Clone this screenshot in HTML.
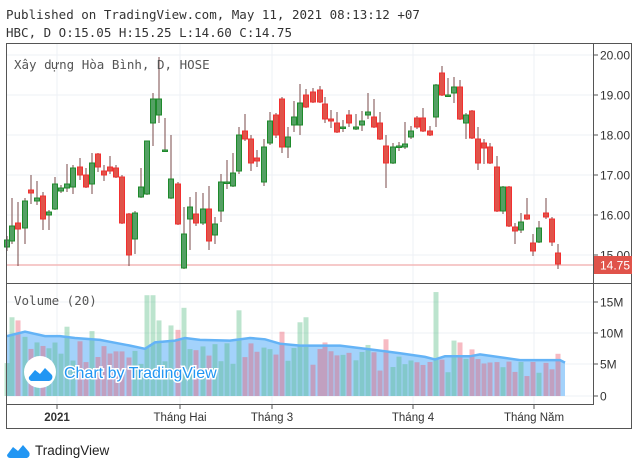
<!DOCTYPE html><html><head><meta charset="utf-8"><style>
body{margin:0;background:#fff;width:640px;height:467px;overflow:hidden}
svg text{font-family:"Liberation Sans",sans-serif}
</style></head><body>
<svg id="s" width="640" height="467" xmlns="http://www.w3.org/2000/svg"></svg>
<script>
const s=document.getElementById('s');let h='';
h+='<text x="6" y="19" font-size="12.5" fill="#333" style="font-family:DejaVu Sans Mono,monospace">Published on TradingView.com, May 11, 2021 08:13:12 +07</text>';
h+='<text x="6" y="37" font-size="12.5" fill="#333" style="font-family:DejaVu Sans Mono,monospace">HBC, D O:15.05 H:15.25 L:14.60 C:14.75</text>';
[55,95,135,175,215,255].forEach(y=>h+=`<line x1="7" x2="593" y1="${y}" y2="${y}" stroke="#eef1f5"/>`);
[302,333,364,396].forEach(y=>h+=`<line x1="7" x2="593" y1="${y}" y2="${y}" stroke="#eef1f5"/>`);
[57,180,272,413,534].forEach(x=>h+=`<line x1="${x}" x2="${x}" y1="44" y2="404" stroke="#eef1f5"/>`);
h+='<line x1="7" x2="593" y1="265" y2="265" stroke="#f4b8b8" stroke-width="1.5"/>';
const C=[[7,240,247,236,251,'g'],[12,226,241,198,244,'g'],[18,223,229,202,266,'r'],[25,201,228,198,244,'g'],[31,190,193,175,204,'r'],[37,198,201,181,205,'g'],[43,196,219,192,230,'r'],[49,212,215,210,230,'g'],[55,184,209,177,210,'g'],[61,188,191,185,193,'g'],[67,184,188,164,192,'g'],[73,168,187,165,194,'g'],[80,167,175,158,180,'r'],[86,175,187,168,188,'r'],[92,163,184,153,194,'g'],[98,154,167,153,172,'r'],[104,171,175,165,181,'r'],[110,167,171,156,174,'r'],[116,168,177,165,178,'r'],[122,177,223,175,224,'r'],[129,214,255,213,266,'r'],[135,213,239,211,254,'g'],[141,187,197,168,198,'g'],[147,141,194,141,195,'g'],[153,99,123,93,146,'g'],[159,99,115,57,123,'g'],[165,150,151,118,151,'g'],[171,179,198,135,199,'g'],[178,184,224,182,225,'r'],[184,234,268,207,269,'g'],[190,207,219,197,250,'g'],[196,214,223,192,226,'r'],[203,209,223,193,225,'g'],[209,209,241,186,250,'r'],[215,224,235,217,244,'g'],[221,182,211,174,222,'g'],[227,182,183,160,189,'g'],[233,173,186,153,187,'g'],[239,135,171,127,174,'g'],[245,131,139,114,141,'r'],[251,139,163,135,171,'r'],[257,158,161,150,167,'r'],[264,147,182,139,186,'g'],[270,121,143,112,145,'g'],[276,115,135,113,138,'r'],[282,99,147,97,153,'r'],[288,137,147,127,158,'g'],[294,117,125,101,132,'g'],[300,103,125,84,135,'g'],[306,95,107,89,108,'r'],[313,92,102,88,103,'r'],
[320,90,102,86,103,'r'],[325,104,119,97,123,'r'],[331,119,121,110,128,'r'],[337,123,132,112,133,'r'],[343,127,128,120,132,'g'],[349,115,123,110,127,'r'],[356,127,129,114,130,'g'],[362,121,125,111,131,'g'],[368,112,115,93,119,'g'],[374,117,127,99,128,'r'],[380,123,139,112,140,'r'],[386,146,163,135,188,'r'],[393,147,163,143,164,'g'],[399,146,147,142,151,'g'],[405,144,147,122,149,'g'],[411,131,137,126,139,'g'],[417,118,127,116,129,'r'],[423,118,131,108,132,'r'],[430,131,135,126,136,'r'],[436,85,117,84,127,'g'],[442,73,95,66,96,'r'],[448,95,96,78,96,'g'],[454,87,93,77,103,'g'],[460,87,119,80,120,'r'],[466,115,123,113,139,'g'],[472,111,138,110,139,'r'],[478,139,163,127,170,'r'],[484,143,148,139,164,'r'],[490,147,163,143,164,'r'],[497,167,211,156,212,'r'],[503,187,211,186,214,'g'],[509,187,226,186,227,'r'],[515,227,231,223,244,'r'],[521,222,230,213,233,'g'],[527,215,219,198,220,'r'],[533,243,251,234,256,'r'],[539,228,242,221,243,'g'],[546,213,217,198,219,'r'],[552,219,242,217,246,'r'],[558,253,264,244,269,'r']];
C.forEach(c=>{const col=c[5]=='g'?'#1e8a2b':'#f23030',fill=c[5]=='g'?'#54a064':'#e0534a';
h+=`<line x1="${c[0]}" x2="${c[0]}" y1="${c[3]}" y2="${c[4]}" stroke="#7a4a48" stroke-width="1"/>`;
h+=`<rect x="${c[0]-2.5}" y="${c[1]}" width="5" height="${Math.max(1.5,c[2]-c[1])}" fill="${fill}" stroke="${col}" stroke-width="1"/>`;});
const Y=v=>396-v*6.3;
const ma=[[7,9.5],[25,10.2],[45,9.5],[60,9.5],[75,9.2],[100,8.9],[110,8.6],[130,8.0],[145,7.5],[155,8.5],[175,8.8],[185,9.2],[200,8.9],[230,8.8],[250,9.2],[265,9.0],[280,8.3],[300,8.0],[340,8.0],[370,7.4],[400,6.8],[425,6.2],[435,5.8],[445,6.3],[470,6.3],[480,6.6],[520,5.7],[560,5.7],[565,5.3]];
let pts=ma.map(p=>p[0]+','+Y(p[1]).toFixed(1)).join(' ');
h+=`<polygon points="7,396 ${pts} 565,396" fill="#a3d2fb"/>`;
const sp={12:[12.5,'g'],18:[12,'r'],67:[11,'g'],92:[10.3,'g'],147:[16,'g'],153:[16,'g'],159:[12,'g'],171:[11.2,'g'],178:[10.5,'r'],184:[14,'g'],239:[13.6,'g'],282:[10.2,'r'],300:[11.7,'g'],306:[12.5,'g'],325:[8.5,'r'],368:[8.1,'g'],386:[9,'r'],436:[16.5,'g'],454:[8.8,'g'],460:[8.5,'r'],472:[7.4,'r'],558:[6.7,'r']};
function maAt(x){for(let i=1;i<ma.length;i++)if(x<=ma[i][0]){const a=ma[i-1],b=ma[i];return a[1]+(b[1]-a[1])*(x-a[0])/(b[0]-a[0]);}return 5.5}
C.forEach((c,i)=>{let v,col=c[5];const k=Object.keys(sp).find(q=>Math.abs(q-c[0])<=2);
if(k){v=sp[k][0];col=sp[k][1];}else v=maAt(c[0])*(0.55+0.4*Math.abs(Math.sin(i*1.7)));
const f=col=='g'?'rgba(80,185,125,0.38)':'rgba(235,90,110,0.42)';
h+=`<rect x="${c[0]-2.5}" y="${Y(v)}" width="5" height="${v*6.3}" fill="${f}"/>`;});
h+=`<polyline points="${pts}" fill="none" stroke="#64b3f6" stroke-width="2.5"/>`;
h+='<text x="14" y="305" font-size="12.5" fill="#555" style="font-family:DejaVu Sans Mono,monospace">Volume (20)</text>';
h+='<text x="14" y="69" font-size="12.5" fill="#555" style="font-family:DejaVu Sans Mono,monospace">Xây dựng Hòa Bình, D, HOSE</text>';
h+='<circle cx="40" cy="372" r="16" fill="#fff"/><path d="M29,377 l6,-7 l5,4 l5,-6 l6,6 a4,4 0 0 1 -2,7 h-17 a3,3 0 0 1 -3,-4z" fill="#2196f3"/>';
h+='<text x="64" y="378" font-size="16" fill="#2196f3" stroke="#fff" stroke-width="3" paint-order="stroke">Chart by TradingView</text>';
h+='<rect x="6.5" y="43.5" width="625" height="385" fill="none" stroke="#555"/>';
h+='<line x1="593.5" x2="593.5" y1="44" y2="404" stroke="#555"/><line x1="7" x2="632" y1="283.5" y2="283.5" stroke="#555"/><line x1="7" x2="594" y1="404.5" y2="404.5" stroke="#555"/>';
[[55,'20.00'],[95,'19.00'],[135,'18.00'],[175,'17.00'],[215,'16.00'],[255,'15.00']].forEach(t=>{h+=`<line x1="594" x2="598" y1="${t[0]}" y2="${t[0]}" stroke="#555"/><text x="600" y="${t[0]+4.5}" font-size="12" fill="#333">${t[1]}</text>`});
[[302,'15M'],[333,'10M'],[364,'5M'],[396,'0']].forEach(t=>{h+=`<line x1="594" x2="598" y1="${t[0]}" y2="${t[0]}" stroke="#555"/><text x="600" y="${t[0]+4.5}" font-size="12" fill="#333">${t[1]}</text>`});
h+='<rect x="594" y="256" width="38" height="18" fill="#e0534a"/><text x="600" y="269.5" font-size="12" fill="#fff">14.75</text>';
[[57,'2021',1],[180,'Tháng Hai'],[272,'Tháng 3'],[413,'Tháng 4'],[534,'Tháng Năm']].forEach(t=>{h+=`<line x1="${t[0]}" x2="${t[0]}" y1="405" y2="409" stroke="#555"/><text x="${t[0]}" y="421" font-size="11.5" text-anchor="middle" fill="#333" ${t[2]?'font-weight="bold"':''}>${t[1]}</text>`});
h+='<path d="M7,455 l6,-8 l5,4 l5,-6 l6,7 a4,4 0 0 1 -2,6 h-17 a3,3 0 0 1 -3,-3z" fill="#2196f3"/><text x="35" y="455" font-size="13.5" fill="#222">TradingView</text>';
s.innerHTML=h;
</script></body></html>
